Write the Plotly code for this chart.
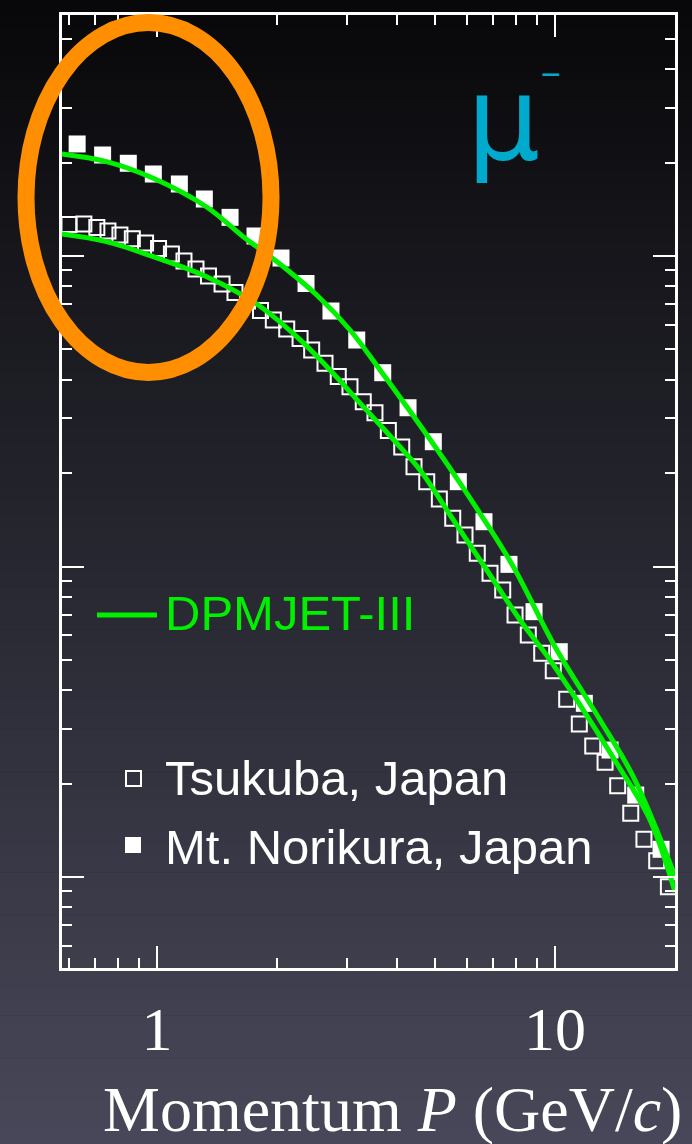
import plotly.graph_objects as go

# Momentum (GeV/c) and mu- flux for Tsukuba (sea level)
tsukuba_p = [0.601, 0.655, 0.706, 0.753, 0.807, 0.867, 0.936, 1.009, 1.087, 1.169,
             1.253, 1.347, 1.457, 1.570, 1.688, 1.820, 1.960, 2.118, 2.288, 2.447,
             2.643, 2.854, 3.054, 3.298, 3.529, 3.813, 4.120, 4.423, 4.761, 5.121,
             5.534, 5.941, 6.378, 6.866, 7.390, 7.936, 8.568, 9.260, 9.900, 10.70,
             11.51, 12.44, 13.36, 14.37, 15.50, 16.73, 18.01, 19.27]
tsukuba_flux = [12.63, 12.68, 12.36, 12.03, 11.68, 11.37, 11.01, 10.57, 10.15, 9.636,
                9.081, 8.622, 8.125, 7.629, 7.164, 6.675, 6.221, 5.820, 5.424, 4.981,
                4.512, 4.092, 3.794, 3.395, 3.129, 2.742, 2.426, 2.097, 1.876, 1.650,
                1.430, 1.263, 1.103, 0.9508, 0.8400, 0.6980, 0.6017, 0.5253, 0.4618, 0.3735,
                0.3111, 0.2642, 0.2341, 0.1968, 0.1603, 0.1322, 0.1128, 0.0930]

# Momentum (GeV/c) and mu- flux for Mt. Norikura
norikura_p = [0.630, 0.730, 0.847, 0.979, 1.138, 1.315, 1.526, 1.763, 2.049, 2.368,
              2.736, 3.176, 3.691, 4.273, 4.946, 5.716, 6.630, 7.662, 8.857, 10.25,
              11.85, 13.75, 15.95, 18.47]
norikura_flux = [22.95, 21.15, 19.89, 18.37, 17.06, 15.26, 13.32, 11.60, 9.85, 8.155,
                 6.65, 5.363, 4.209, 3.246, 2.523, 1.876, 1.394, 1.016, 0.7154, 0.5316,
                 0.3625, 0.2564, 0.1836, 0.1228]

# DPMJET-III predictions
dpm_norikura_p = [0.577, 0.747, 0.979, 1.333, 1.647, 1.999, 2.519, 3.054, 3.634, 4.242,
                  5.344, 6.479, 7.858, 10.00, 12.98, 15.73, 20.02]
dpm_norikura_flux = [21.31, 20.13, 17.79, 14.38, 11.54, 9.600, 7.487, 5.777, 4.295, 3.271,
                     2.149, 1.483, 0.9985, 0.5517, 0.3204, 0.2104, 0.1007]
dpm_tsukuba_p = [0.577, 0.747, 0.979, 1.333, 1.781, 2.244, 2.721, 3.298, 4.003, 4.580,
                 5.554, 6.737, 8.167, 9.714, 11.78, 14.29, 17.33, 20.02]
dpm_tsukuba_flux = [11.77, 11.12, 9.948, 8.578, 7.004, 5.497, 4.295, 3.271, 2.494, 2.046,
                    1.412, 0.9743, 0.6725, 0.5000, 0.3449, 0.2324, 0.1527, 0.0894]

x_major = [1, 10]
x_major_text = ["1", "10"]
x_minor = [0.6, 0.7, 0.8, 0.9, 2, 3, 4, 5, 6, 7, 8, 9, 20]
y_major = [0.1, 1, 10]
y_minor = [0.06, 0.07, 0.08, 0.09, 0.2, 0.3, 0.4, 0.5, 0.6, 0.7, 0.8, 0.9,
           2, 3, 4, 5, 6, 7, 8, 9, 20, 30, 40, 50, 60]

W, H = 692, 1144
L, R, T, B = 62, 17, 15, 176
GREEN = "#00f000"
CYAN = "#00aacc"
ORANGE = "#ff8f00"


def px(x):
    return (x - L) / (W - L - R)


def py(y):
    return (H - B - y) / (H - T - B)


fig = go.Figure()
fig.add_trace(go.Scatter(x=tsukuba_p, y=tsukuba_flux, mode="markers", name="Tsukuba, Japan",
                         marker=dict(symbol="square-open", size=15, color="white",
                                     line=dict(width=2, color="white"))))
fig.add_trace(go.Scatter(x=norikura_p, y=norikura_flux, mode="markers", name="Mt. Norikura, Japan",
                         marker=dict(symbol="square", size=17, color="white", line=dict(width=0))))
fig.add_trace(go.Scatter(x=dpm_norikura_p, y=dpm_norikura_flux, mode="lines", name="DPMJET-III",
                         line=dict(color=GREEN, width=5, shape="spline")))
fig.add_trace(go.Scatter(x=dpm_tsukuba_p, y=dpm_tsukuba_flux, mode="lines", name="DPMJET-III",
                         line=dict(color=GREEN, width=5, shape="spline")))

# vertical dark-to-slate background gradient
shapes = []
bands = 80
for i in range(bands):
    y_top = i * H / bands
    y_bot = (i + 1) * H / bands
    f = (i + 0.5) / bands
    r = int(8 + 64 * f)
    b = int(10 + 80 * f)
    shapes.append(dict(type="rect", xref="paper", yref="paper", layer="below",
                       x0=px(0), x1=px(W), y0=py(y_bot + 0.5), y1=py(y_top),
                       fillcolor=f"rgb({r},{r},{b})", line=dict(width=0)))

# highlight ellipse around the low-momentum region
shapes.append(dict(type="circle", xref="paper", yref="paper", layer="above",
                   x0=px(26), x1=px(271), y0=py(372.5), y1=py(22.5),
                   line=dict(color=ORANGE, width=17)))

# legend keys
shapes.append(dict(type="line", xref="paper", yref="paper", x0=px(97), x1=px(157),
                   y0=py(615), y1=py(615), line=dict(color=GREEN, width=5)))
shapes.append(dict(type="rect", xref="paper", yref="paper", x0=px(126), x1=px(141),
                   y0=py(786), y1=py(771), line=dict(color="white", width=2)))
shapes.append(dict(type="rect", xref="paper", yref="paper", x0=px(125), x1=px(141),
                   y0=py(853), y1=py(837), fillcolor="white", line=dict(width=0)))

sans = "Liberation Sans, Arial, sans-serif"
serif = "Liberation Serif, Times New Roman, serif"
annotations = [
    dict(text="DPMJET-III", x=px(163), y=py(613), xanchor="left", yanchor="middle",
         font=dict(family=sans, size=49, color=GREEN)),
    dict(text="Tsukuba, Japan", x=px(163), y=py(778), xanchor="left", yanchor="middle",
         font=dict(family=sans, size=49, color="white")),
    dict(text="Mt. Norikura, Japan", x=px(163), y=py(847), xanchor="left", yanchor="middle",
         font=dict(family=sans, size=49, color="white")),
    dict(text="μ", x=px(503), y=py(119), xanchor="center", yanchor="middle",
         font=dict(family="DejaVu Sans, sans-serif", size=115, color=CYAN)),
    dict(text="−", x=px(551), y=py(74), xanchor="center", yanchor="middle",
         font=dict(family=sans, size=34, color=CYAN)),
    dict(text="Momentum <i>P</i> (GeV/<i>c</i>)", x=px(392), y=py(1109),
         xanchor="center", yanchor="middle",
         font=dict(family=serif, size=64, color="white")),
]
for a in annotations:
    a.update(xref="paper", yref="paper", showarrow=False)

fig.update_layout(
    width=W, height=H,
    margin=dict(l=L, r=R, t=T, b=B),
    paper_bgcolor="rgb(8,8,10)",
    plot_bgcolor="rgba(0,0,0,0)",
    showlegend=False,
    shapes=shapes,
    annotations=annotations,
)

fig.update_xaxes(
    type="log", range=[-0.2387, 1.3015],
    tickmode="array", tickvals=x_major, ticktext=x_major_text,
    ticks="inside", ticklen=22, tickwidth=2, tickcolor="white",
    tickfont=dict(family=serif, size=62, color="white"),
    ticklabelstandoff=5,
    showline=True, linecolor="white", linewidth=2.5, mirror="allticks",
    showgrid=False, zeroline=False,
    minor=dict(tickmode="array", tickvals=x_minor, ticks="inside", ticklen=10,
               tickwidth=2, tickcolor="white", showgrid=False),
)
fig.update_yaxes(
    type="log", range=[-1.2931, 1.7762],
    tickmode="array", tickvals=y_major, showticklabels=False,
    ticks="inside", ticklen=22, tickwidth=2, tickcolor="white",
    showline=True, linecolor="white", linewidth=2.5, mirror="allticks",
    showgrid=False, zeroline=False,
    minor=dict(tickmode="array", tickvals=y_minor, ticks="inside", ticklen=10,
               tickwidth=2, tickcolor="white", showgrid=False),
)

fig.write_html("out.html")
